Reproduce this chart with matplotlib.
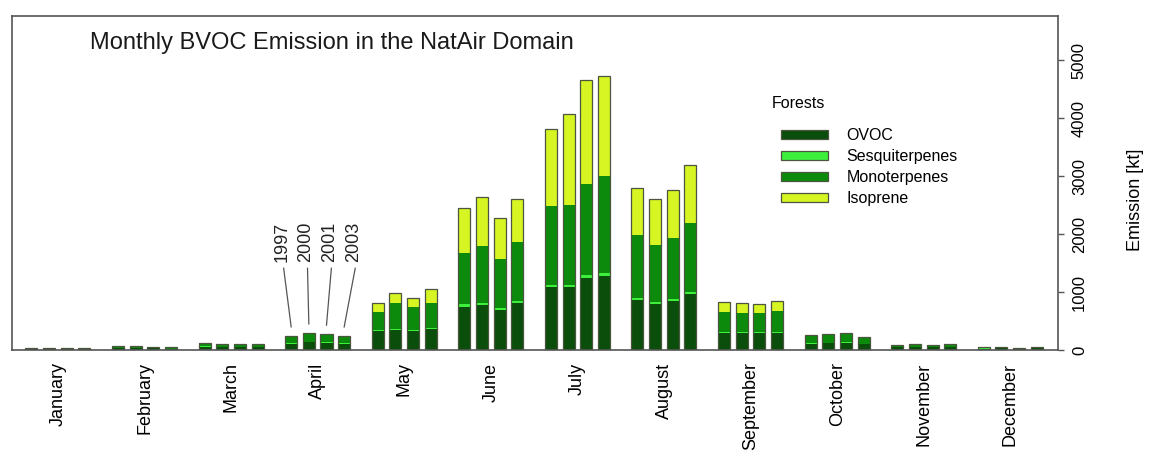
import matplotlib
matplotlib.use('Agg')
import matplotlib.pyplot as plt
from matplotlib.patches import Patch
import numpy as np

plt.rcParams['font.family'] = ['Liberation Sans', 'DejaVu Sans']

months = ['January', 'February', 'March', 'April', 'May', 'June', 'July',
          'August', 'September', 'October', 'November', 'December']
years = ['1997', '2000', '2001', '2003']

# emissions in kt, one row per month, one column per year
ovoc = [[20, 20, 20, 20], [35, 35, 28, 22], [60, 50, 50, 50], [110, 135, 125, 110],
        [330, 340, 330, 360], [745, 775, 690, 810], [1080, 1080, 1240, 1280],
        [870, 800, 850, 960], [290, 290, 290, 300], [110, 120, 125, 100],
        [45, 55, 45, 55], [25, 28, 22, 28]]
sesq = [[1, 1, 1, 1], [1, 1, 1, 1], [3, 3, 3, 3], [8, 10, 9, 8],
        [20, 22, 20, 24], [40, 42, 38, 42], [45, 45, 48, 50],
        [35, 32, 34, 38], [12, 12, 12, 12], [6, 6, 6, 5],
        [2, 2, 2, 2], [1, 1, 1, 1]]
mono = [[18, 18, 18, 18], [30, 30, 24, 20], [60, 52, 52, 52], [115, 135, 125, 115],
        [305, 448, 390, 426], [885, 975, 840, 1010], [1355, 1375, 1572, 1670],
        [1075, 978, 1046, 1192], [350, 340, 335, 355], [125, 130, 140, 105],
        [35, 40, 35, 40], [18, 20, 16, 20]]
iso = [[1, 1, 1, 1], [2, 2, 2, 2], [5, 5, 5, 5], [15, 20, 20, 15],
       [155, 170, 160, 240], [780, 850, 710, 740], [1330, 1570, 1795, 1725],
       [810, 790, 830, 1000], [175, 165, 150, 170], [20, 20, 25, 15],
       [3, 3, 3, 3], [1, 1, 1, 1]]

layers = [('OVOC', ovoc, '#0b4d0b'),
          ('Sesquiterpenes', sesq, '#3cf03c'),
          ('Monoterpenes', mono, '#0c8a0c'),
          ('Isoprene', iso, '#d6f522')]

step = 4.9      # distance between month groups
width = 0.68
edge = '#4b5540'

fig = plt.figure(figsize=(11.54, 4.61), dpi=100)
ax = fig.add_axes([12/1154, 1-350/461, 1046/1154, 334/461])

x = np.array([[m*step + j for j in range(4)] for m in range(12)])
bottom = np.zeros((12, 4))
for name, vals, col in layers:
    v = np.array(vals, dtype=float)
    ax.bar(x.ravel(), v.ravel(), width, bottom=bottom.ravel(), color=col,
           linewidth=0)
    bottom += v
total = bottom
# outline around each whole stack
ax.bar(x.ravel(), total.ravel(), width, facecolor='none', edgecolor=edge,
       linewidth=0.9)

# year labels over April
apr = 3
cx = apr*step + 1.5
for j, yr in enumerate(years):
    tx = cx + (j - 1.5)*1.35
    ax.text(tx, 1520, yr, rotation=90, ha='center', va='bottom', fontsize=13,
            color='#222222')
    ax.plot([tx + 0.1, x[apr, j]], [1410, total[apr, j] + 150],
            color='#555555', lw=0.9)

ax.set_xlim(-1.1, 11*step + 3 + 1.2)
ax.set_ylim(0, 5760)
ax.set_xticks(np.arange(12)*step + 1.5)
ax.set_xticklabels(months, rotation=90, fontsize=13)
ax.tick_params(axis='x', length=0, pad=9)

ax.yaxis.tick_right()
ax.set_yticks(range(0, 5001, 1000))
ax.set_yticklabels([str(v) for v in range(0, 5001, 1000)], rotation=90,
                   va='center', fontsize=12)
ax.tick_params(axis='y', direction='out', length=4, width=1, color='#555555',
               pad=6)
for s in ax.spines.values():
    s.set_color('#555555')
    s.set_linewidth(1.2)

fig.text(1135/1154, 1-200/461, 'Emission [kt]', rotation=90, ha='center',
         va='center', fontsize=13)
ax.text((90-12)/1046, (350-43)/334, 'Monthly BVOC Emission in the NatAir Domain',
        transform=ax.transAxes, fontsize=17, va='center', ha='left',
        color='#1a1a1a')

fig.text(772/1154, 1-104/461, 'Forests', fontsize=11.5, va='center', ha='left')
handles = [Patch(facecolor=c, edgecolor=edge, linewidth=0.9, label=n)
           for n, _, c in layers]
ax.legend(handles=handles, loc='upper left', frameon=False, fontsize=11.5,
          bbox_to_anchor=(770/1154, 1-117/461), bbox_transform=fig.transFigure,
          handlelength=2.9, handleheight=0.5, labelspacing=0.38,
          handletextpad=1.2, borderpad=0.2)

fig.savefig('out.png', dpi=100)
